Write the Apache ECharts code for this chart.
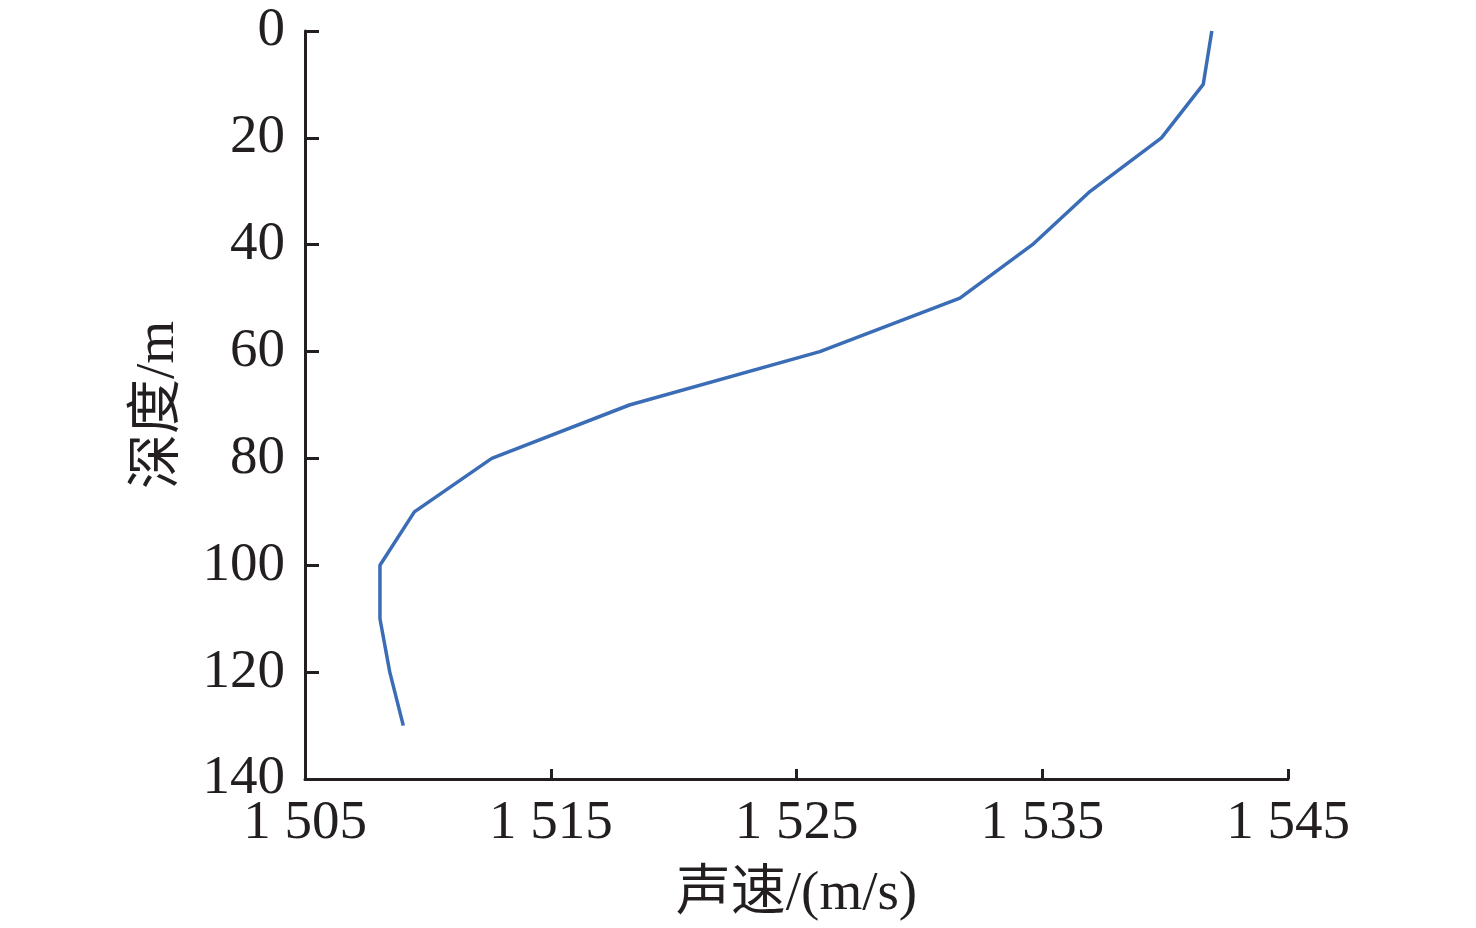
<!DOCTYPE html>
<html><head><meta charset="utf-8">
<script src="https://cdn.jsdelivr.net/npm/echarts@6/dist/echarts.min.js"></script>
<style>html,body{margin:0;padding:0;background:#fff}#c{width:1476px;height:928px}</style>
</head><body><div id="c"></div>
<script>
const depths = [0, 10, 20, 30, 40, 50, 60, 70, 80, 90, 100, 110, 120, 130];
const soundSpeed = [1541.9, 1541.55, 1539.85, 1536.95, 1534.6, 1531.65, 1525.95, 1518.2, 1512.6, 1509.45, 1508.05, 1508.05, 1508.45, 1509.0];
const xTicks = [1505, 1515, 1525, 1535, 1545];
const yTicks = [0, 20, 40, 60, 80, 100, 120, 140];
const xName = '声速/(m/s)';
const yName = '深度/m';

const font = '"Liberation Serif", "Times New Roman", "Noto Sans CJK SC", serif';
const fs = 55;
const chart = echarts.init(document.getElementById('c'), null, {renderer: 'canvas'});
chart.setOption({
  backgroundColor: '#fff',
  animation: false,
  grid: {left: 305, right: 188, top: 31, bottom: 149, containLabel: false},
  xAxis: {
    type: 'value', position: 'bottom', min: xTicks[0], max: xTicks[xTicks.length - 1], interval: 10,
    name: xName, nameLocation: 'middle', nameGap: 88,
    nameTextStyle: {fontFamily: font, fontSize: fs, color: '#231f20', verticalAlign: 'top'},
    axisLine: {show: true, onZero: false, lineStyle: {color: '#231f20', width: 3}},
    axisTick: {show: true, inside: true, length: 10, lineStyle: {color: '#231f20', width: 3}},
    axisLabel: {fontFamily: font, fontSize: fs, color: '#231f20', margin: 17,
      formatter: v => { const s = String(v); return s.length > 3 ? s.slice(0, s.length - 3) + ' ' + s.slice(-3) : s; }},
    splitLine: {show: false}
  },
  yAxis: {
    type: 'value', position: 'left', inverse: true, min: yTicks[0], max: yTicks[yTicks.length - 1], interval: 20,
    name: yName, nameLocation: 'middle', nameGap: 119, nameRotate: 90,
    nameTextStyle: {fontFamily: font, fontSize: fs, color: '#231f20'},
    axisLine: {show: true, onZero: false, lineStyle: {color: '#231f20', width: 3}},
    axisTick: {show: true, inside: true, length: 14, lineStyle: {color: '#231f20', width: 3}},
    axisLabel: {fontFamily: font, fontSize: fs, color: '#231f20', margin: 20},
    splitLine: {show: false}
  },
  series: [{
    type: 'line',
    data: depths.map((d, i) => [soundSpeed[i], d]),
    showSymbol: false,
    lineStyle: {color: '#3a6db5', width: 3.5},
    itemStyle: {color: '#3a6db5'}
  }]
});
</script></body></html>
